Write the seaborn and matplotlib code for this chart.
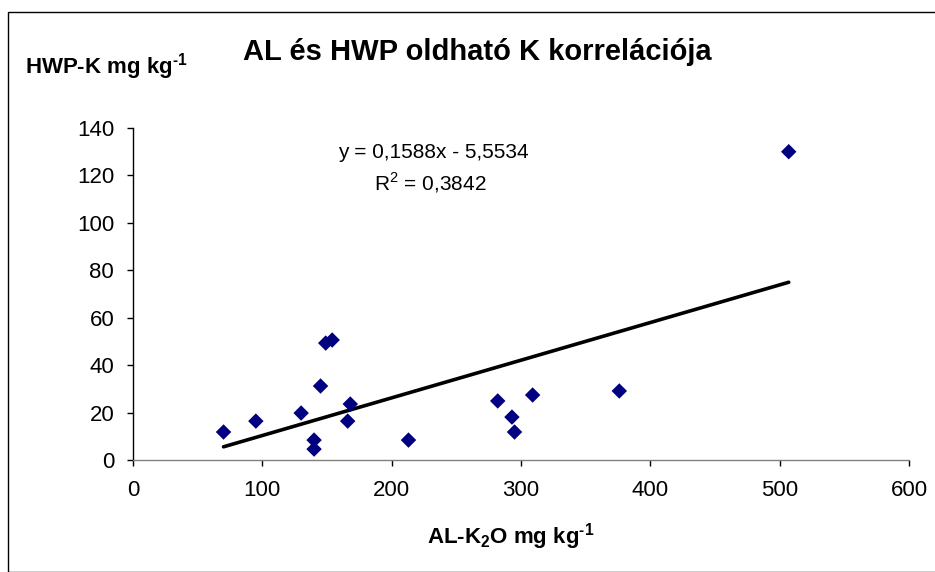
import numpy as np
import pandas as pd
import matplotlib
matplotlib.use("Agg")
import matplotlib.pyplot as plt
import seaborn as sns
from matplotlib.patches import Rectangle

# Data
al_k2o = [70, 95, 130, 145, 140, 140, 149, 154, 168, 166, 213, 282, 293, 295, 309, 376, 507]
hwp_k = [11.8, 16.4, 19.8, 31.2, 8.4, 4.6, 49.3, 50.6, 23.6, 16.4, 8.4, 24.9, 18.1, 11.8, 27.4, 29.1, 130]
slope = 0.1588
intercept = -5.5534
x_ticks = [0, 100, 200, 300, 400, 500, 600]
y_ticks = [0, 20, 40, 60, 80, 100, 120, 140]
title = "AL és HWP oldható K korrelációja"
eq_text = "y = 0,1588x - 5,5534"
r2_text = "R$^2$ = 0,3842"

df = pd.DataFrame({"x": al_k2o, "y": hwp_k})

sns.set_theme(style="white")
plt.rcParams['font.family'] = ['Liberation Sans', 'DejaVu Sans']
plt.rcParams['text.color'] = 'black'
plt.rcParams['mathtext.fontset'] = 'custom'
plt.rcParams['mathtext.rm'] = 'Liberation Sans'
plt.rcParams['mathtext.bf'] = 'Liberation Sans:bold'

fig = plt.figure(figsize=(9.35, 5.72), dpi=100)
ax = fig.add_axes([133/935, 1-460/572, (909-133)/935, (460-128)/572])

# Chart-area border
fig.patches.append(Rectangle((8/935, 0), 1.2, 1-12/572, transform=fig.transFigure,
                             fill=False, edgecolor='black', linewidth=1.0))

sns.scatterplot(data=df, x="x", y="y", marker="D", s=62, color="#000080",
                edgecolor="none", linewidth=0, ax=ax, zorder=3)

xs = np.array([min(al_k2o), max(al_k2o)])
ax.plot(xs, slope*xs + intercept, color="black", linewidth=2.6, zorder=2)

ax.set_xlim(0, 600)
ax.set_ylim(0, 140)
ax.set_xticks(x_ticks)
ax.set_yticks(y_ticks)
ax.tick_params(axis='both', labelsize=16, direction='out', length=4.5, width=1,
               color='black', labelcolor='black', bottom=True, left=True)
ax.tick_params(axis='x', pad=10)
ax.tick_params(axis='y', pad=9)
for s in ['top', 'right']:
    ax.spines[s].set_visible(False)
ax.spines['left'].set_color('black')
ax.spines['bottom'].set_color('#808080')
for s in ['left', 'bottom']:
    ax.spines[s].set_linewidth(1.0)
ax.set_xlabel("")
ax.set_ylabel("")

fig.text(477/935, 1-52/572, title, ha='center', va='center', fontsize=21, fontweight='bold')
fig.text(25/935, 1-67/572, "HWP-K mg kg$^{\\mathbf{\u20101}}$", ha='left', va='center', fontsize=16, fontweight='bold')
fig.text(511/935, 1-537/572, "AL-K$_{\\mathbf{2}}$O mg kg$^{\\mathbf{\u20101}}$", ha='center', va='center', fontsize=16, fontweight='bold')

fig.text(433/935, 1-152/572, eq_text, ha='center', va='center', fontsize=15)
fig.text(430/935, 1-183/572, r2_text, ha='center', va='center', fontsize=15)

fig.savefig("out.png", dpi=100)
